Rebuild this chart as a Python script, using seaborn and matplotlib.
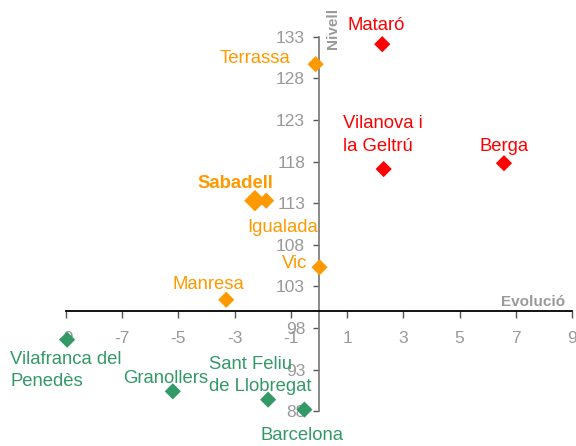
import matplotlib
matplotlib.use("Agg")
from matplotlib import pyplot as plt
import pandas as pd
import seaborn as sns

# dades llegides del gràfic
ciutats = ["Mataró", "Terrassa", "Vilanova i\nla Geltrú", "Berga", "Sabadell", "Igualada",
           "Vic", "Manresa", "Vilafranca del\nPenedès", "Granollers",
           "Sant Feliu\nde Llobregat", "Barcelona"]
evolucio = [2.25, -0.12, 2.3, 6.58, -2.28, -1.88, 0.02, -3.3, -8.96, -5.2, -1.81, -0.52]
nivell = [132.1, 129.7, 117.1, 117.8, 113.3, 113.3, 105.3, 101.4, 96.6, 90.4, 89.4, 88.2]
grup = ["alt", "mig", "alt", "alt", "mig", "mig", "mig", "mig", "baix", "baix", "baix", "baix"]
mida = ["normal"] * 4 + ["gran"] + ["normal"] * 7

colors = {"alt": "#FF0000", "mig": "#FF9900", "baix": "#339966"}

# posició de cada etiqueta (offset en píxels, alineació)
offsets = [(-6, 19, "center"), (-25, 6, "right"), (-41, 34, "left"), (0, 17, "center"),
           (-20, 17, "center"), (16, -27, "center"), (-12, 4, "right"), (-18, 15, "center"),
           (-57, -31, "left"), (-7, 13, "center"), (-59, 24, "left"), (-2, -26, "center")]

df = pd.DataFrame({"ciutat": ciutats, "evolucio": evolucio, "nivell": nivell,
                   "grup": grup, "mida": mida})

sns.set_style("white")
plt.rcParams["font.family"] = ["Liberation Sans", "DejaVu Sans"]
plt.rcParams["axes.unicode_minus"] = False

fig = plt.figure(figsize=(5.76, 4.46), dpi=100)
ax = fig.add_axes([66 / 576, 1 - 411.3 / 446, (572 - 66) / 576, (411.3 - 36.7) / 446])

sns.scatterplot(data=df, x="evolucio", y="nivell", hue="grup", palette=colors,
                size="mida", sizes={"normal": 68, "gran": 120}, marker="D",
                linewidth=0, legend=False, clip_on=False, zorder=5, ax=ax)

for i, row in df.iterrows():
    dx, dy, ha = offsets[i]
    ax.annotate(row["ciutat"], (row["evolucio"], row["nivell"]),
                xytext=(dx, dy), textcoords="offset pixels", ha=ha, va="center",
                multialignment="left", linespacing=1.4,
                color=colors[row["grup"]], fontsize=13.3,
                fontweight="bold" if row["mida"] == "gran" else "normal",
                annotation_clip=False, zorder=6)

ax.set_xlim(-9, 9)
ax.set_ylim(88, 133)
ax.set_xticks(range(-9, 10, 2))
ax.set_yticks(range(88, 134, 5))
ax.set_xlabel("")
ax.set_ylabel("")

ax.spines["left"].set_position(("data", 0))
ax.spines["bottom"].set_position(("data", 100))
ax.spines["top"].set_visible(False)
ax.spines["right"].set_visible(False)
ax.spines["left"].set_color("#808080")
ax.spines["left"].set_linewidth(1.3)
ax.spines["bottom"].set_color("black")
ax.spines["bottom"].set_linewidth(1.3)

ax.tick_params(axis="x", direction="out", length=5, width=1, color="#555555",
               labelcolor="#999999", labelsize=12.5, pad=9, bottom=True)
ax.tick_params(axis="y", direction="out", length=4, width=1, color="#555555",
               labelcolor="#999999", labelsize=12.5, pad=6, left=True)

ax.text(565 / 576, 1 - 301.7 / 446, "Evolució", transform=fig.transFigure,
        ha="right", va="center", color="#999999", fontsize=11, fontweight="bold")
ax.text(333 / 576, 1 - 28 / 446, "Nivell", transform=fig.transFigure, rotation=90,
        ha="center", va="center", color="#999999", fontsize=11, fontweight="bold")

fig.savefig("out.png", dpi=100)
